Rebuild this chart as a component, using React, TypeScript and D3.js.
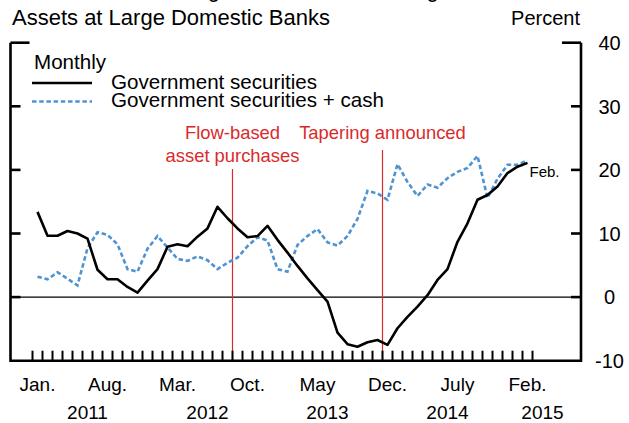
import React from "react";
import * as d3 from "d3";

const govSec: number[] = [13.4, 9.65, 9.65, 10.4, 10.0, 9.2, 4.3, 2.8, 2.8, 1.6, 0.7, 2.6, 4.4, 7.9, 8.3, 8.0, 9.5, 10.8, 14.2, 12.4, 10.8, 9.4, 9.6, 11.2, 9.0, 7.0, 4.9, 2.95, 1.1, -0.7, -5.6, -7.4, -7.8, -7.1, -6.75, -7.5, -4.9, -3.1, -1.5, 0.3, 2.7, 4.4, 8.7, 11.6, 15.3, 16.05, 17.4, 19.5, 20.5, 21.1];
const govSecCash: number[] = [3.2, 2.8, 3.9, 2.9, 1.85, 7.7, 10.2, 9.8, 8.3, 4.4, 4.0, 7.6, 9.6, 7.8, 6.0, 5.7, 6.4, 5.8, 4.4, 5.4, 6.2, 8.0, 9.4, 8.9, 4.4, 4.0, 8.2, 9.6, 10.7, 8.6, 8.1, 9.6, 12.3, 16.7, 16.3, 15.3, 20.9, 18.1, 15.9, 17.7, 17.2, 18.7, 19.7, 20.3, 22.2, 15.6, 18.6, 20.8, 20.8, 21.5];

const monthLabels = ["Jan.", "Aug.", "Mar.", "Oct.", "May", "Dec.", "July", "Feb."];
const monthLabelIdx = [0, 7, 14, 21, 28, 35, 42, 49];
const yearLabels = ["2011", "2012", "2013", "2014", "2015"];
const yearLabelPos = [5.5, 17.5, 29.5, 41.5, 51];
const yTicks = [40, 30, 20, 10, 0, -10];
const events = [
  { month: 20, lines: ["Flow-based", "asset purchases"] },
  { month: 35, lines: ["Tapering announced"] },
];

const W = 629, H = 423;
const FONT = "'Liberation Sans', Arial, sans-serif";
const RED = "#d92b2b";
const BLUE = "#4f93d0";

export default function App() {
  const x = d3.scaleLinear().domain([0, 50]).range([32.5, 532.5]);
  const y = d3.scaleLinear().domain([-10, 40]).range([360.7, 42.7]);
  const leftX = 10.5, rightX = 581;
  const bottomY = y(-10);

  const line = d3.line<number>().x((_, i) => x(i + 0.5)).y((d) => y(d));
  const ticks = d3.range(51);

  return (
    <svg width={W} height={H} style={{ position: "absolute", left: 0, top: 0, background: "#fff" }} fontFamily={FONT}>
      <text x={12} y={-3} fontSize={22}>Twelve-month Change in Securities Holdings,</text>
      <text x={12} y={25} fontSize={22}>Assets at Large Domestic Banks</text>
      <text x={580} y={25} fontSize={20} textAnchor="end">Percent</text>

      {/* zero line */}
      <line x1={leftX} x2={rightX} y1={y(0)} y2={y(0)} stroke="#000" strokeWidth={1.2} />

      {/* event lines */}
      {events.map((e, k) => (
        <g key={k}>
          <line x1={x(e.month)} x2={x(e.month)} y1={e.lines.length > 1 ? 169 : 150} y2={bottomY} stroke={RED} strokeWidth={1.2} />
          {e.lines.map((t, j) => (
            <text key={j} x={x(e.month)} y={139 + j * 23} fontSize={18.4} fill={RED} textAnchor="middle">{t}</text>
          ))}
        </g>
      ))}

      {/* month ticks */}
      {ticks.map((t) => (
        <line key={t} x1={x(t)} x2={x(t)} y1={bottomY} y2={bottomY - 10} stroke="#000" strokeWidth={2} />
      ))}

      {/* frame */}
      <path d={`M${leftX},${y(40)} V${bottomY} H${rightX} V${y(40)}`} fill="none" stroke="#000" strokeWidth={2.6} />
      {yTicks.filter((v) => v > -10).map((v) => {
        const len = v === 40 ? 19 : 10;
        return (
          <g key={v}>
            <line x1={leftX} x2={leftX + len} y1={y(v)} y2={y(v)} stroke="#000" strokeWidth={2.6} />
            <line x1={rightX - len} x2={rightX} y1={y(v)} y2={y(v)} stroke="#000" strokeWidth={2.6} />
          </g>
        );
      })}
      {yTicks.map((v) => (
        <text key={v} x={609.5} y={y(v)} dy="0.36em" fontSize={20} textAnchor="middle">{v}</text>
      ))}

      {/* series */}
      <path d={line(govSecCash) || ""} fill="none" stroke={BLUE} strokeWidth={2.6} strokeDasharray="4.5,2.7" />
      <path d={line(govSec) || ""} fill="none" stroke="#000" strokeWidth={2.6} strokeLinejoin="round" />
      <text x={x(49.5) + 2} y={y(govSec[49]) + 14} fontSize={15}>Feb.</text>

      {/* legend */}
      <text x={34} y={69} fontSize={20.6}>Monthly</text>
      <line x1={32} x2={92} y1={83} y2={83} stroke="#000" strokeWidth={2.6} />
      <text x={111} y={89} fontSize={20.6}>Government securities</text>
      <line x1={32} x2={92} y1={101.5} y2={101.5} stroke={BLUE} strokeWidth={2.6} strokeDasharray="4.5,2.7" />
      <text x={111} y={107} fontSize={20.6}>Government securities + cash</text>

      {/* x labels */}
      {monthLabels.map((m, k) => (
        <text key={m} x={x(monthLabelIdx[k] + 0.5)} y={391} fontSize={19} textAnchor="middle">{m}</text>
      ))}
      {yearLabels.map((yr, k) => (
        <text key={yr} x={x(yearLabelPos[k])} y={419} fontSize={19} textAnchor="middle">{yr}</text>
      ))}
    </svg>
  );
}
